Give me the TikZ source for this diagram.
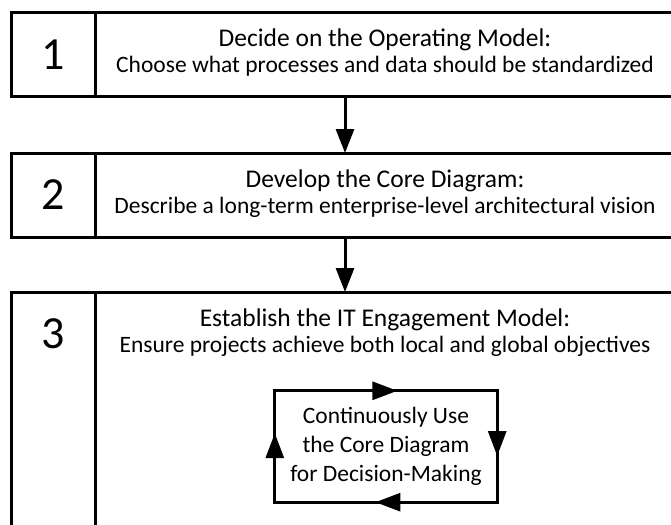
\documentclass[tikz,border=0pt]{standalone}
\usepackage{fontspec}
\setmainfont{Carlito}
\usetikzlibrary{positioning}
\usetikzlibrary{arrows.meta, decorations.markings}

\begin{document}
\begin{tikzpicture}[x=1pt, y=-1pt,
		numbox/.style = {draw, line width=3pt, outer sep=0pt, inner sep=0pt,
			minimum width=84pt, minimum height=84pt,
			font=\fontsize{46}{50}\selectfont},
		bodybox/.style = {draw, line width=3pt, outer sep=0pt, inner sep=0pt,
			minimum width=580pt, minimum height=84pt},
		headtext/.style = {anchor=base, inner sep=0pt,
			font=\fontsize{25.5}{30}\selectfont},
		subtext/.style = {anchor=base, inner sep=0pt,
			font=\fontsize{23.5}{27}\selectfont},
		flow/.style = {line width=3pt, -{Triangle[width=18pt,length=24pt]}},
		cyclebox/.style = {align=center, inner sep=0pt,
			minimum width=222pt, minimum height=111pt,
			font=\fontsize{23.5}{29}\selectfont},
		cycleline/.style = {line width=3pt, line join=miter,
			postaction={decorate},
			decoration={markings,
				mark=at position 69pt with {\arrow{Triangle[width=18pt,length=25pt]}},
				mark=at position 234pt with {\arrow{Triangle[width=18pt,length=25pt]}},
				mark=at position 399pt with {\arrow{Triangle[width=18pt,length=25pt]}},
				mark=at position 567pt with {\arrow{Triangle[width=18pt,length=25pt]}}}}]
	\path[use as bounding box, fill=white] (0,0) rectangle (671,524);
	\clip (0,0) rectangle (671,524);

	% step boxes
	\node (num1) [numbox] at (53,55) {1};
	\node (body1) [bodybox, right=0pt of num1] {};
	\node (num2) [numbox, below=56pt of num1] {2};
	\node (body2) [bodybox, right=0pt of num2] {};
	\node (num3) [numbox, below=55pt of num2, minimum height=300pt] {};
	\node (body3) [bodybox, right=0pt of num3, minimum height=300pt] {};
	\node [numbox, draw=none] at ([yshift=-42pt]num3.north) {3};

	% titles
	\node (head1) [headtext] at ([yshift=-34pt]body1.north) {Decide on the Operating Model:};
	\node (sub1) [subtext] at ([yshift=-60pt]body1.north) {Choose what processes and data should be standardized};
	\node (head2) [headtext] at ([yshift=-34pt]body2.north) {Develop the Core Diagram:};
	\node (sub2) [subtext] at ([yshift=-60pt]body2.north) {Describe a long-term enterprise-level architectural vision};
	\node (head3) [headtext] at ([yshift=-34pt]body3.north) {Establish the IT Engagement Model:};
	\node (sub3) [subtext] at ([yshift=-60pt]body3.north) {Ensure projects achieve both local and global objectives};

	% flow between steps
	\draw [flow] ([xshift=250pt]body1.south west) -- ([xshift=250pt]body2.north west);
	\draw [flow] ([xshift=250pt]body2.south west) -- ([xshift=250pt]body3.north west);

	% feedback loop
	\node (usecore) [cyclebox] at (386,446.5) {Continuously Use\\the Core Diagram\\for Decision-Making};
	\draw [cycleline] (usecore.south west) -- (usecore.north west)
	-- (usecore.north east) -- (usecore.south east) -- cycle;
\end{tikzpicture}
\end{document}
